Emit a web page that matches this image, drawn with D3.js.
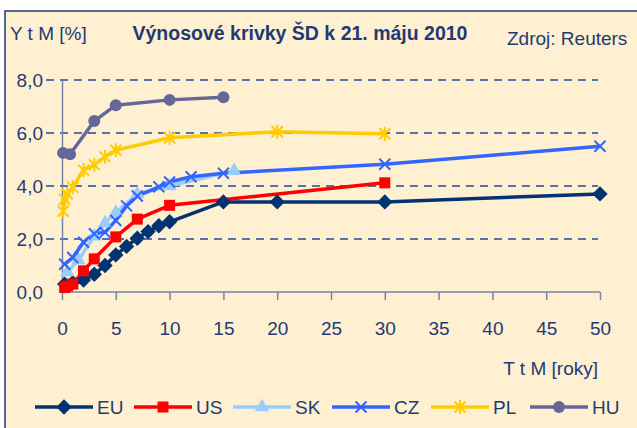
<!DOCTYPE html>
<html>
<head>
<meta charset="utf-8">
<script src="https://cdn.jsdelivr.net/npm/d3@7"></script>
<style>
  html, body { margin: 0; padding: 0; background: #fff; }
  svg text { font-family: "Liberation Sans", Arial, sans-serif; fill: #1F3A73; }
</style>
</head>
<body>
<svg id="chart"></svg>
<script>
// yield curves, 21 May 2010 (maturity in years, yield in %)
const euX = [0.25, 1, 2, 3, 4, 5, 6, 7, 8, 9, 10, 15, 20, 30, 50];
const euY = [0.3, 0.35, 0.45, 0.67, 1.0, 1.4, 1.72, 2.03, 2.28, 2.5, 2.65, 3.4, 3.4, 3.4, 3.7];
const usX = [0.25, 0.5, 1, 2, 3, 5, 7, 10, 30];
const usY = [0.17, 0.22, 0.3, 0.8, 1.25, 2.08, 2.75, 3.27, 4.12];
const skX = [0.5, 1.5, 3, 4, 5, 7, 10, 16];
const skY = [0.75, 1.2, 2.1, 2.6, 3.0, 3.7, 4.0, 4.57];
const czX = [0.25, 1, 2, 3, 4, 5, 6, 7, 9, 10, 12, 15, 30, 50];
const czY = [1.05, 1.3, 1.88, 2.2, 2.25, 2.7, 3.25, 3.62, 3.97, 4.15, 4.35, 4.48, 4.82, 5.5];
const plX = [0.1, 0.25, 0.5, 1, 2, 3, 4, 5, 10, 20, 30];
const plY = [3.05, 3.5, 3.7, 3.95, 4.6, 4.8, 5.1, 5.35, 5.82, 6.05, 5.97];
const huX = [0.1, 0.75, 3, 5, 10, 15];
const huY = [5.25, 5.2, 6.45, 7.05, 7.25, 7.35];

const seriesNames = ['EU', 'US', 'SK', 'CZ', 'PL', 'HU'];
const xTicks = [0, 5, 10, 15, 20, 25, 30, 35, 40, 45, 50];
const yTicks = [0, 2, 4, 6, 8];

const colors = { EU: '#003372', US: '#FF0000', SK: '#99CCFF', CZ: '#3366FF', PL: '#FFCC00', HU: '#666699' };

const series = [
  { name: 'EU', xs: euX, ys: euY },
  { name: 'US', xs: usX, ys: usY },
  { name: 'SK', xs: skX, ys: skY },
  { name: 'CZ', xs: czX, ys: czY },
  { name: 'PL', xs: plX, ys: plY },
  { name: 'HU', xs: huX, ys: huY }
].map(s => ({ name: s.name, values: s.xs.map((x, i) => ({ x: x, y: s.ys[i] })) }));

const width = 637, height = 428;
const fontSize = 19;
const svg = d3.select('#chart').attr('width', width).attr('height', height);

// background frame
svg.append('rect').attr('x', 5).attr('y', 11).attr('width', width).attr('height', height)
  .attr('fill', '#FFF0D2').attr('stroke', '#1F3A73').attr('stroke-width', 1.5);

const xScale = d3.scaleLinear().domain([0, 50]).range([62, 600]);
const yScale = d3.scaleLinear().domain([0, 8]).range([292, 80]);

// dashed gridlines
svg.append('g').selectAll('line')
  .data(yTicks.filter(d => d > 0))
  .join('line')
  .attr('x1', 46).attr('x2', 598)
  .attr('y1', d => yScale(d)).attr('y2', d => yScale(d))
  .attr('stroke', '#1F4A94').attr('stroke-width', 1.3)
  .attr('stroke-dasharray', '8,6');

// axes
const xAxis = d3.axisBottom(xScale).tickValues(xTicks).tickSize(8).tickPadding(22).tickFormat(d => d);
const yAxis = d3.axisLeft(yScale).tickValues(yTicks).tickSize(0).tickPadding(19)
  .tickFormat(d => d3.format('.1f')(d).replace('.', ','));

svg.append('g').attr('transform', `translate(0,${yScale(0)})`).call(xAxis)
  .call(g => g.selectAll('.domain').attr('d', `M${xScale(0)},0H${xScale(50)}`).attr('stroke', '#7585A8').attr('stroke-width', 1.5))
  .call(g => g.selectAll('.tick line').attr('stroke', '#7585A8').attr('stroke-width', 1.5))
  .call(g => g.selectAll('text').attr('font-size', fontSize).attr('fill', '#1F3A73'));

svg.append('g').attr('transform', `translate(${xScale(0)},0)`).call(yAxis)
  .call(g => g.selectAll('.domain').attr('stroke', '#7585A8').attr('stroke-width', 1.5))
  .call(g => g.selectAll('text').attr('font-size', fontSize).attr('fill', '#1F3A73'));

// lines
const line = d3.line().x(d => xScale(d.x)).y(d => yScale(d.y));
svg.append('g').selectAll('path')
  .data(series)
  .join('path')
  .attr('d', d => line(d.values))
  .attr('fill', 'none')
  .attr('stroke', d => colors[d.name])
  .attr('stroke-width', 3.5)
  .attr('stroke-linejoin', 'round');

// markers
const xMark = 'M-5.5,-5.5L5.5,5.5M-5.5,5.5L5.5,-5.5';
const starMark = 'M-5.5,-5.5L5.5,5.5M-5.5,5.5L5.5,-5.5M0,-7L0,7';
function drawMarker(g, name) {
  const c = colors[name];
  if (name === 'EU') g.append('path').attr('d', d3.symbol(d3.symbolDiamond2, 150)()).attr('fill', c);
  else if (name === 'US') g.append('rect').attr('x', -5.5).attr('y', -5.5).attr('width', 11).attr('height', 11).attr('fill', c);
  else if (name === 'SK') g.append('path').attr('d', d3.symbol(d3.symbolTriangle, 90)()).attr('fill', c);
  else if (name === 'CZ') g.append('path').attr('d', xMark).attr('stroke', c).attr('stroke-width', 2).attr('fill', 'none');
  else if (name === 'PL') g.append('path').attr('d', starMark).attr('stroke', c).attr('stroke-width', 2).attr('fill', 'none');
  else g.append('circle').attr('r', 6).attr('fill', c);
}

series.forEach(s => {
  svg.append('g').selectAll('g')
    .data(s.values)
    .join('g')
    .attr('transform', d => `translate(${xScale(d.x)},${yScale(d.y)})`)
    .each(function () { drawMarker(d3.select(this), s.name); });
});

// titles
svg.append('text').attr('x', 10).attr('y', 40).attr('font-size', fontSize).text('Y t M [%]');
svg.append('text').attr('x', 300).attr('y', 40).attr('font-size', 19.5).attr('font-weight', 'bold')
  .attr('text-anchor', 'middle').text('Výnosové krivky ŠD k 21. máju 2010');
svg.append('text').attr('x', 507).attr('y', 45).attr('font-size', fontSize).text('Zdroj: Reuters');
svg.append('text').attr('x', 598).attr('y', 375).attr('font-size', fontSize).attr('text-anchor', 'end').text('T t M [roky]');

// legend
const legend = svg.append('g').selectAll('g')
  .data(seriesNames)
  .join('g')
  .attr('transform', (d, i) => `translate(${35 + i * 99},407)`);
legend.append('line').attr('x1', 0).attr('x2', 58).attr('stroke', d => colors[d]).attr('stroke-width', 3.5);
legend.each(function (d) {
  const g = d3.select(this).append('g').attr('transform', 'translate(29,0)');
  drawMarker(g, d);
});
legend.append('text').attr('x', 62).attr('y', 7).attr('font-size', fontSize).text(d => d);
</script>
</body>
</html>
